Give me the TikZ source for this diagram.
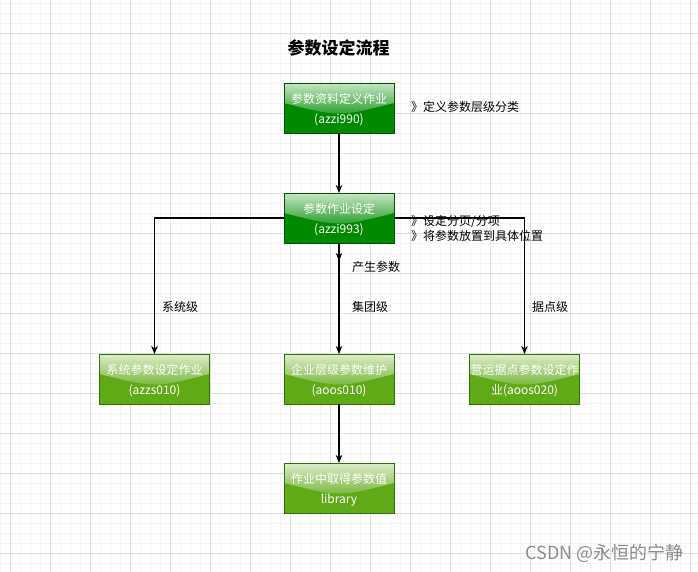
\documentclass[tikz,border=0pt]{standalone}
\usepackage{fontspec}
\setmainfont{Noto Sans CJK SC}
\usetikzlibrary{arrows.meta,calc}
\definecolor{dkg}{HTML}{008A00}
\definecolor{dkgs}{HTML}{005700}
\definecolor{ltg}{HTML}{60A917}
\definecolor{ltgs}{HTML}{2D7600}
\definecolor{gridmaj}{HTML}{E0E0E0}
\definecolor{gridmin}{HTML}{F4F4F4}
\definecolor{wmgray}{HTML}{8C8C8C}
\newcommand\gbox[7]{%
  \node[gboxshape, fill=#4, draw=#5] (#1) at (#2,#3+25) {};
  \shade[top color=white!78!#4, bottom color=white!12!#4]
    (#1.north west) -- ($(#1.north west)+(0,20)$)
    .. controls ($(#1.north)+(0,34)$) .. ($(#1.north east)+(0,20)$)
    -- (#1.north east) -- cycle;
  \draw[#5, line width=0.9pt] (#1.north west) rectangle (#1.south east);
  \node[boxtxt] (#1-a) at (#2,#3+16) {#6};
  \node[boxtxt] (#1-b) at (#2,#3+37) {#7};
}
\begin{document}
\begin{tikzpicture}[x=1pt,y=-1pt,
  gboxshape/.style={rectangle, minimum width=110pt, minimum height=50pt, inner sep=0pt, outer sep=0pt, line width=0.9pt},
  boxtxt/.style={text=white, font=\fontsize{12}{14}\selectfont, inner sep=0pt},
  lbl/.style={text=black, font=\fontsize{12}{14}\selectfont, inner sep=0pt},
  arr/.style={draw=black, line width=1.1pt, -{Stealth[length=8pt,width=6.5pt,inset=2.5pt]}}]
\useasboundingbox (0,0) rectangle (698,572);
\fill[white] (0,0) rectangle (698,572);
\foreach \x in {0,10,...,690} \draw[gridmin, line width=0.8pt] (\x,0) -- (\x,572);
\foreach \y in {3,13,...,563} \draw[gridmin, line width=0.8pt] (0,\y) -- (698,\y);
\foreach \x in {10,50,...,690} \draw[gridmaj, line width=0.9pt] (\x,0) -- (\x,572);
\foreach \y in {33,73,...,553} \draw[gridmaj, line width=0.9pt] (0,\y) -- (698,\y);

\node[font=\fontsize{17}{20}\selectfont\bfseries, inner sep=0pt] (title) at (338.5,48) {参数设定流程};

\gbox{b1}{339}{83}{dkg}{dkgs}{参数资料定义作业}{(azzi990)}
\gbox{b2}{339}{193}{dkg}{dkgs}{参数作业设定}{(azzi993)}
\gbox{bA}{154.5}{354}{ltg}{ltgs}{系统参数设定作业}{(azzs010)}
\gbox{bB}{339}{354}{ltg}{ltgs}{企业层级参数维护}{(aoos010)}
\gbox{bC}{524.5}{354}{ltg}{ltgs}{营运据点参数设定作}{业(aoos020)}
\gbox{bD}{339}{463}{ltg}{ltgs}{作业中取得参数值}{library}

\coordinate (mid) at (339,261);
\draw[arr] (b1) -- (b2);
\draw[arr] (b2) -- (bB);
\draw[arr] (b2.south) -- (mid);
\draw[arr] (b2.west) -| (bA.north);
\draw[arr] (b2.east) -| (bC.north);
\draw[arr] (bB) -- (bD);

\node[lbl, anchor=west] (n1) at (411,107) {》定义参数层级分类};
\node[lbl, anchor=west] (n2) at (411,221) {》设定分页/分项};
\node[lbl, anchor=west] (n3) at (411,236) {》将参数放置到具体位置};

\node[lbl, anchor=west] (l0) at (352,267) {产生参数};
\node[lbl, anchor=west] (l1) at (162,307) {系统级};
\node[lbl, anchor=west] (l2) at (352,307) {集团级};
\node[lbl, anchor=west] (l3) at (532,307) {据点级};

\node[anchor=east, text=wmgray, font=\fontsize{18}{20}\selectfont, inner sep=0pt] (wm) at (684,553) {CSDN @永恒的宁静};
\end{tikzpicture}
\end{document}
